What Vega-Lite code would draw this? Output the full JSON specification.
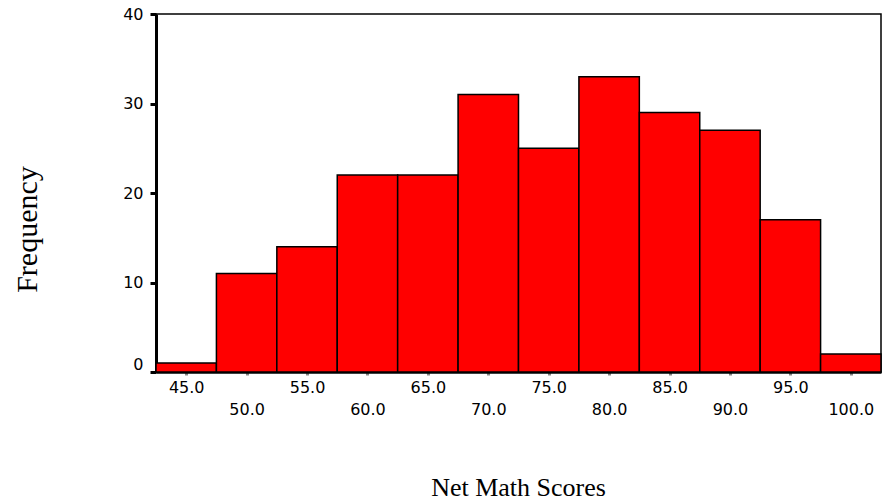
{
  "$schema": "https://vega.github.io/schema/vega-lite/v6.json",
  "autosize": "none",
  "padding": {"left": 156, "top": 14, "right": 4, "bottom": 130},
  "width": 725,
  "height": 358,
  "background": "white",
  "data": {"values": [
    {"start": 42.5, "end": 47.5, "count": 1},
    {"start": 47.5, "end": 52.5, "count": 11},
    {"start": 52.5, "end": 57.5, "count": 14},
    {"start": 57.5, "end": 62.5, "count": 22},
    {"start": 62.5, "end": 67.5, "count": 22},
    {"start": 67.5, "end": 72.5, "count": 31},
    {"start": 72.5, "end": 77.5, "count": 25},
    {"start": 77.5, "end": 82.5, "count": 33},
    {"start": 82.5, "end": 87.5, "count": 29},
    {"start": 87.5, "end": 92.5, "count": 27},
    {"start": 92.5, "end": 97.5, "count": 17},
    {"start": 97.5, "end": 102.5, "count": 2}
  ]},
  "mark": {"type": "bar", "color": "#FF0000", "stroke": "black", "strokeWidth": 1.5},
  "encoding": {
    "x": {
      "field": "start", "type": "quantitative",
      "scale": {"domain": [42.5, 102.5], "nice": false, "zero": false},
      "axis": {
        "title": "Net Math Scores",
        "values": [45, 50, 55, 60, 65, 70, 75, 80, 85, 90, 95, 100],
        "format": ".1f",
        "grid": false,
        "domainColor": "black", "domainWidth": 2.5,
        "tickColor": "#888888", "tickSize": 3, "tickWidth": 3,
        "labelFont": "DejaVu Sans", "labelFontSize": 16, "labelColor": "black",
        "labelBaseline": "middle",
        "labelPadding": {"condition": {"test": "datum.value % 10 === 0", "value": 34}, "value": 12},
        "labelFlush": false, "labelOverlap": false,
        "titleFont": "Liberation Serif", "titleFontSize": 26, "titleFontWeight": "normal", "titleColor": "black",
        "titleX": 362, "titleY": 115, "titleBaseline": "middle"
      }
    },
    "x2": {"field": "end"},
    "y": {
      "field": "count", "type": "quantitative",
      "scale": {"domain": [0, 40], "nice": false},
      "axis": {
        "title": "Frequency",
        "values": [0, 10, 20, 30, 40],
        "grid": false,
        "domainColor": "black", "domainWidth": 3,
        "tickColor": "black", "tickSize": 6, "tickWidth": 3,
        "labelFont": "DejaVu Sans", "labelFontSize": 16, "labelColor": "black", "labelPadding": 7,
        "labelBaseline": {"condition": {"test": "datum.value === 0", "value": "bottom"}, "value": "middle"},
        "titleFont": "Liberation Serif", "titleFontSize": 30, "titleFontWeight": "normal", "titleColor": "black",
        "titleX": -129, "titleY": 215, "titleBaseline": "middle"
      }
    },
    "y2": {"datum": 0}
  },
  "config": {"view": {"stroke": "black", "strokeWidth": 1.5}}
}
